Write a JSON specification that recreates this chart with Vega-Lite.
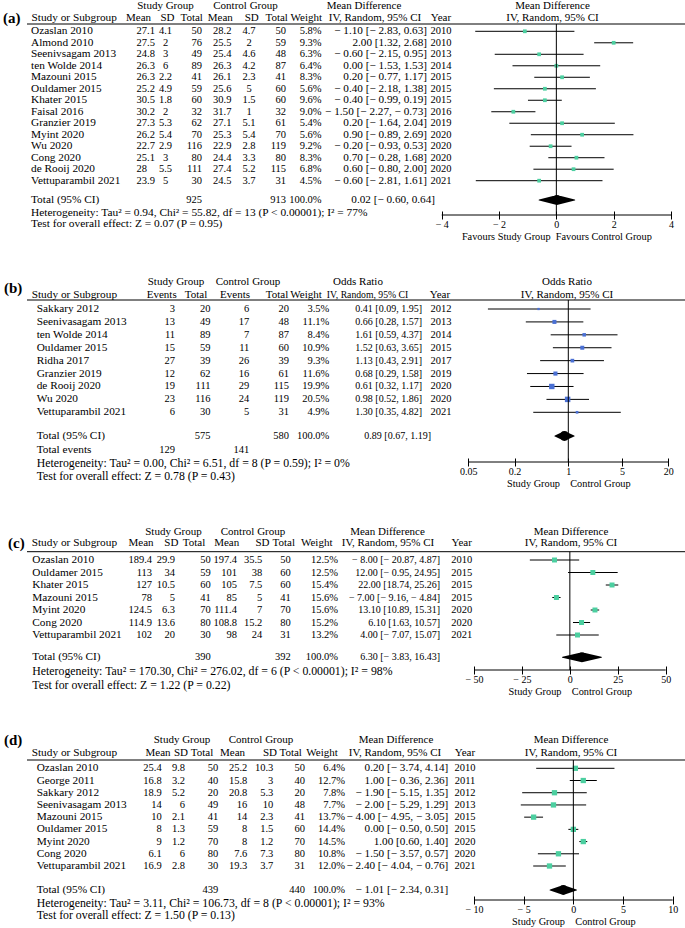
{
"$schema": "https://vega.github.io/schema/vega-lite/v6.json",
"padding": 0,
"background": "white",
"spacing": 30,
"bounds": "flush",
"resolve": {"scale": {"x": "independent", "y": "independent", "size": "independent"}},
"config": {
  "view": {"stroke": null},
  "text": {"font": "Liberation Serif", "fontSize": 11.3, "baseline": "middle", "color": "black"},
  "axis": {"labelFont": "Liberation Serif", "labelFontSize": 10, "labelColor": "black", "titleFont": "Liberation Serif", "titleFontSize": 10.3, "titleFontWeight": "normal", "titleColor": "black", "tickColor": "black", "grid": false}
},
"datasets": {
  "a": [
    {"row":1,"kind":"study","name":"Ozaslan 2010","m1":"27.1","sd1":"4.1","n1":"50","m2":"28.2","sd2":"4.7","n2":"50","wt":"5.8%","ci":"− 1.10 [− 2.83, 0.63]","year":"2010","est":-1.1,"lo":-2.83,"hi":0.63},
    {"row":2,"kind":"study","name":"Almond 2010","m1":"27.5","sd1":"2","n1":"76","m2":"25.5","sd2":"2","n2":"59","wt":"9.3%","ci":"2.00 [1.32, 2.68]","year":"2010","est":2,"lo":1.32,"hi":2.68},
    {"row":3,"kind":"study","name":"Seenivsagam 2013","m1":"24.8","sd1":"3","n1":"49","m2":"25.4","sd2":"4.6","n2":"48","wt":"6.3%","ci":"− 0.60 [− 2.15, 0.95]","year":"2013","est":-0.6,"lo":-2.15,"hi":0.95},
    {"row":4,"kind":"study","name":"ten Wolde 2014","m1":"26.3","sd1":"6","n1":"89","m2":"26.3","sd2":"4.2","n2":"87","wt":"6.4%","ci":"0.00 [− 1.53, 1.53]","year":"2014","est":0,"lo":-1.53,"hi":1.53},
    {"row":5,"kind":"study","name":"Mazouni 2015","m1":"26.3","sd1":"2.2","n1":"41","m2":"26.1","sd2":"2.3","n2":"41","wt":"8.3%","ci":"0.20 [− 0.77, 1.17]","year":"2015","est":0.2,"lo":-0.77,"hi":1.17},
    {"row":6,"kind":"study","name":"Ouldamer 2015","m1":"25.2","sd1":"4.9","n1":"59","m2":"25.6","sd2":"5","n2":"60","wt":"5.6%","ci":"− 0.40 [− 2.18, 1.38]","year":"2015","est":-0.4,"lo":-2.18,"hi":1.38},
    {"row":7,"kind":"study","name":"Khater 2015","m1":"30.5","sd1":"1.8","n1":"60","m2":"30.9","sd2":"1.5","n2":"60","wt":"9.6%","ci":"− 0.40 [− 0.99, 0.19]","year":"2015","est":-0.4,"lo":-0.99,"hi":0.19},
    {"row":8,"kind":"study","name":"Faisal 2016","m1":"30.2","sd1":"2","n1":"32","m2":"31.7","sd2":"1","n2":"32","wt":"9.0%","ci":"− 1.50 [− 2.27, − 0.73]","year":"2016","est":-1.5,"lo":-2.27,"hi":-0.73},
    {"row":9,"kind":"study","name":"Granzier 2019","m1":"27.3","sd1":"5.3","n1":"62","m2":"27.1","sd2":"5.1","n2":"61","wt":"5.4%","ci":"0.20 [− 1.64, 2.04]","year":"2019","est":0.2,"lo":-1.64,"hi":2.04},
    {"row":10,"kind":"study","name":"Myint 2020","m1":"26.2","sd1":"5.4","n1":"70","m2":"25.3","sd2":"5.4","n2":"70","wt":"5.6%","ci":"0.90 [− 0.89, 2.69]","year":"2020","est":0.9,"lo":-0.89,"hi":2.69},
    {"row":11,"kind":"study","name":"Wu 2020","m1":"22.7","sd1":"2.9","n1":"116","m2":"22.9","sd2":"2.8","n2":"119","wt":"9.2%","ci":"− 0.20 [− 0.93, 0.53]","year":"2020","est":-0.2,"lo":-0.93,"hi":0.53},
    {"row":12,"kind":"study","name":"Cong 2020","m1":"25.1","sd1":"3","n1":"80","m2":"24.4","sd2":"3.3","n2":"80","wt":"8.3%","ci":"0.70 [− 0.28, 1.68]","year":"2020","est":0.7,"lo":-0.28,"hi":1.68},
    {"row":13,"kind":"study","name":"de Rooij 2020","m1":"28","sd1":"5.5","n1":"111","m2":"27.4","sd2":"5.2","n2":"115","wt":"6.8%","ci":"0.60 [− 0.80, 2.00]","year":"2020","est":0.6,"lo":-0.8,"hi":2},
    {"row":14,"kind":"study","name":"Vettuparambil 2021","m1":"23.9","sd1":"5","n1":"30","m2":"24.5","sd2":"3.7","n2":"31","wt":"4.5%","ci":"− 0.60 [− 2.81, 1.61]","year":"2021","est":-0.6,"lo":-2.81,"hi":1.61},
    {"row":16,"kind":"total","name":"Total (95% CI)","n1":"925","n2":"913","wt":"100.0%","ci":"0.02 [− 0.60, 0.64]","est":0.02,"lo":-0.6,"hi":0.64},
    {"row":17,"kind":"note","name":"Heterogeneity: Tau² = 0.94, Chi² = 55.82, df = 13 (P < 0.00001); I² = 77%"},
    {"row":18,"kind":"note","name":"Test for overall effect: Z = 0.07 (P = 0.95)"}
  ],
  "ah": [
    {"row":-2,"c":12,"t":"Study Group"},{"row":-2,"c":13,"t":"Control Group"},{"row":-2,"c":14,"t":"Mean Difference"},{"row":-2,"c":24,"t":"Mean Difference"},
    {"row":-1,"c":11,"t":"Study or Subgroup"},{"row":-1,"c":15,"t":"Mean"},{"row":-1,"c":16,"t":"SD"},{"row":-1,"c":17,"t":"Total"},{"row":-1,"c":18,"t":"Mean"},{"row":-1,"c":19,"t":"SD"},{"row":-1,"c":20,"t":"Total"},{"row":-1,"c":21,"t":"Weight"},{"row":-1,"c":22,"t":"IV, Random, 95% CI"},{"row":-1,"c":23,"t":"Year"},{"row":-1,"c":24,"t":"IV, Random, 95% CI"},{"row":-1,"c":25,"t":"(a)"}
  ],
  "b": [
    {"row":1,"kind":"study","name":"Sakkary 2012","ev1":"3","n1":"20","ev2":"6","n2":"20","wt":"3.5%","w":3.5,"ci":"0.41 [0.09, 1.95]","year":"2012","est":0.41,"lo":0.09,"hi":1.95},
    {"row":2,"kind":"study","name":"Seenivasagam 2013","ev1":"13","n1":"49","ev2":"17","n2":"48","wt":"11.1%","w":11.1,"ci":"0.66 [0.28, 1.57]","year":"2013","est":0.66,"lo":0.28,"hi":1.57},
    {"row":3,"kind":"study","name":"ten Wolde 2014","ev1":"11","n1":"89","ev2":"7","n2":"87","wt":"8.4%","w":8.4,"ci":"1.61 [0.59, 4.37]","year":"2014","est":1.61,"lo":0.59,"hi":4.37},
    {"row":4,"kind":"study","name":"Ouldamer 2015","ev1":"15","n1":"59","ev2":"11","n2":"60","wt":"10.9%","w":10.9,"ci":"1.52 [0.63, 3.65]","year":"2015","est":1.52,"lo":0.63,"hi":3.65},
    {"row":5,"kind":"study","name":"Ridha 2017","ev1":"27","n1":"39","ev2":"26","n2":"39","wt":"9.3%","w":9.3,"ci":"1.13 [0.43, 2.91]","year":"2017","est":1.13,"lo":0.43,"hi":2.91},
    {"row":6,"kind":"study","name":"Granzier 2019","ev1":"12","n1":"62","ev2":"16","n2":"61","wt":"11.6%","w":11.6,"ci":"0.68 [0.29, 1.58]","year":"2019","est":0.68,"lo":0.29,"hi":1.58},
    {"row":7,"kind":"study","name":"de Rooij 2020","ev1":"19","n1":"111","ev2":"29","n2":"115","wt":"19.9%","w":19.9,"ci":"0.61 [0.32, 1.17]","year":"2020","est":0.61,"lo":0.32,"hi":1.17},
    {"row":8,"kind":"study","name":"Wu 2020","ev1":"23","n1":"116","ev2":"24","n2":"119","wt":"20.5%","w":20.5,"ci":"0.98 [0.52, 1.86]","year":"2020","est":0.98,"lo":0.52,"hi":1.86},
    {"row":9,"kind":"study","name":"Vettuparambil 2021","ev1":"6","n1":"30","ev2":"5","n2":"31","wt":"4.9%","w":4.9,"ci":"1.30 [0.35, 4.82]","year":"2021","est":1.3,"lo":0.35,"hi":4.82},
    {"row":11,"kind":"total","name":"Total (95% CI)","n1":"575","n2":"580","wt":"100.0%","ci":"0.89 [0.67, 1.19]","est":0.89,"lo":0.67,"hi":1.19},
    {"row":12,"kind":"events","name":"Total events","ev1":"129","ev2":"141"},
    {"row":13,"kind":"note","name":"Heterogeneity: Tau² = 0.00, Chi² = 6.51, df = 8 (P = 0.59); I² = 0%"},
    {"row":14,"kind":"note","name":"Test for overall effect: Z = 0.78 (P = 0.43)"}
  ],
  "bh": [
    {"row":-2,"c":12,"t":"Study Group"},{"row":-2,"c":13,"t":"Control Group"},{"row":-2,"c":14,"t":"Odds Ratio"},{"row":-2,"c":24,"t":"Odds Ratio"},
    {"row":-1,"c":11,"t":"Study or Subgroup"},{"row":-1,"c":15,"t":"Events"},{"row":-1,"c":17,"t":"Total"},{"row":-1,"c":18,"t":"Events"},{"row":-1,"c":20,"t":"Total"},{"row":-1,"c":21,"t":"Weight"},{"row":-1,"c":22,"t":"IV, Random, 95% CI"},{"row":-1,"c":23,"t":"Year"},{"row":-1,"c":24,"t":"IV, Random, 95% CI"},{"row":-1.5,"c":25,"t":"(b)"}
  ],
  "c": [
    {"row":1,"kind":"study","name":"Ozaslan 2010","m1":"189.4","sd1":"29.9","n1":"50","m2":"197.4","sd2":"35.5","n2":"50","wt":"12.5%","ci":"− 8.00 [− 20.87, 4.87]","year":"2010","est":-8,"lo":-20.87,"hi":4.87},
    {"row":2,"kind":"study","name":"Ouldamer 2015","m1":"113","sd1":"34","n1":"59","m2":"101","sd2":"38","n2":"60","wt":"12.5%","ci":"12.00 [− 0.95, 24.95]","year":"2015","est":12,"lo":-0.95,"hi":24.95},
    {"row":3,"kind":"study","name":"Khater 2015","m1":"127","sd1":"10.5","n1":"60","m2":"105","sd2":"7.5","n2":"60","wt":"15.4%","ci":"22.00 [18.74, 25.26]","year":"2015","est":22,"lo":18.74,"hi":25.26},
    {"row":4,"kind":"study","name":"Mazouni 2015","m1":"78","sd1":"5","n1":"41","m2":"85","sd2":"5","n2":"41","wt":"15.6%","ci":"− 7.00 [− 9.16, − 4.84]","year":"2015","est":-7,"lo":-9.16,"hi":-4.84},
    {"row":5,"kind":"study","name":"Myint 2020","m1":"124.5","sd1":"6.3","n1":"70","m2":"111.4","sd2":"7","n2":"70","wt":"15.6%","ci":"13.10 [10.89, 15.31]","year":"2020","est":13.1,"lo":10.89,"hi":15.31},
    {"row":6,"kind":"study","name":"Cong 2020","m1":"114.9","sd1":"13.6","n1":"80","m2":"108.8","sd2":"15.2","n2":"80","wt":"15.2%","ci":"6.10 [1.63, 10.57]","year":"2020","est":6.1,"lo":1.63,"hi":10.57},
    {"row":7,"kind":"study","name":"Vettuparambil 2021","m1":"102","sd1":"20","n1":"30","m2":"98","sd2":"24","n2":"31","wt":"13.2%","ci":"4.00 [− 7.07, 15.07]","year":"2021","est":4,"lo":-7.07,"hi":15.07},
    {"row":9,"kind":"total","name":"Total (95% CI)","n1":"390","n2":"392","wt":"100.0%","ci":"6.30 [− 3.83, 16.43]","est":6.3,"lo":-3.83,"hi":16.43},
    {"row":10,"kind":"note","name":"Heterogeneity: Tau² = 170.30, Chi² = 276.02, df = 6 (P < 0.00001); I² = 98%"},
    {"row":11,"kind":"note","name":"Test for overall effect: Z = 1.22 (P = 0.22)"}
  ],
  "ch": [
    {"row":-2,"c":12,"t":"Study Group"},{"row":-2,"c":13,"t":"Control Group"},{"row":-2,"c":14,"t":"Mean Difference"},{"row":-2,"c":24,"t":"Mean Difference"},
    {"row":-1,"c":11,"t":"Study or Subgroup"},{"row":-1,"c":15,"t":"Mean"},{"row":-1,"c":16,"t":"SD"},{"row":-1,"c":17,"t":"Total"},{"row":-1,"c":18,"t":"Mean"},{"row":-1,"c":19,"t":"SD"},{"row":-1,"c":20,"t":"Total"},{"row":-1,"c":21,"t":"Weight"},{"row":-1,"c":22,"t":"IV, Random, 95% CI"},{"row":-1,"c":23,"t":"Year"},{"row":-1,"c":24,"t":"IV, Random, 95% CI"},{"row":-1,"c":25,"t":"(c)"}
  ],
  "d": [
    {"row":1,"kind":"study","name":"Ozaslan 2010","m1":"25.4","sd1":"9.8","n1":"50","m2":"25.2","sd2":"10.3","n2":"50","wt":"6.4%","ci":"0.20 [− 3.74, 4.14]","year":"2010","est":0.2,"lo":-3.74,"hi":4.14},
    {"row":2,"kind":"study","name":"George 2011","m1":"16.8","sd1":"3.2","n1":"40","m2":"15.8","sd2":"3","n2":"40","wt":"12.7%","ci":"1.00 [− 0.36, 2.36]","year":"2011","est":1,"lo":-0.36,"hi":2.36},
    {"row":3,"kind":"study","name":"Sakkary 2012","m1":"18.9","sd1":"5.2","n1":"20","m2":"20.8","sd2":"5.3","n2":"20","wt":"7.8%","ci":"− 1.90 [− 5.15, 1.35]","year":"2012","est":-1.9,"lo":-5.15,"hi":1.35},
    {"row":4,"kind":"study","name":"Seenivasagam 2013","m1":"14","sd1":"6","n1":"49","m2":"16","sd2":"10","n2":"48","wt":"7.7%","ci":"− 2.00 [− 5.29, 1.29]","year":"2013","est":-2,"lo":-5.29,"hi":1.29},
    {"row":5,"kind":"study","name":"Mazouni 2015","m1":"10","sd1":"2.1","n1":"41","m2":"14","sd2":"2.3","n2":"41","wt":"13.7%","ci":"− 4.00 [− 4.95, − 3.05]","year":"2015","est":-4,"lo":-4.95,"hi":-3.05},
    {"row":6,"kind":"study","name":"Ouldamer 2015","m1":"8","sd1":"1.3","n1":"59","m2":"8","sd2":"1.5","n2":"60","wt":"14.4%","ci":"0.00 [− 0.50, 0.50]","year":"2015","est":0,"lo":-0.5,"hi":0.5},
    {"row":7,"kind":"study","name":"Myint 2020","m1":"9","sd1":"1.2","n1":"70","m2":"8","sd2":"1.2","n2":"70","wt":"14.5%","ci":"1.00 [0.60, 1.40]","year":"2020","est":1,"lo":0.6,"hi":1.4},
    {"row":8,"kind":"study","name":"Cong 2020","m1":"6.1","sd1":"6","n1":"80","m2":"7.6","sd2":"7.3","n2":"80","wt":"10.8%","ci":"− 1.50 [− 3.57, 0.57]","year":"2020","est":-1.5,"lo":-3.57,"hi":0.57},
    {"row":9,"kind":"study","name":"Vettuparambil 2021","m1":"16.9","sd1":"2.8","n1":"30","m2":"19.3","sd2":"3.7","n2":"31","wt":"12.0%","ci":"− 2.40 [− 4.04, − 0.76]","year":"2021","est":-2.4,"lo":-4.04,"hi":-0.76},
    {"row":11,"kind":"total","name":"Total (95% CI)","n1":"439","n2":"440","wt":"100.0%","ci":"− 1.01 [− 2.34, 0.31]","est":-1.01,"lo":-2.34,"hi":0.31},
    {"row":12,"kind":"note","name":"Heterogeneity: Tau² = 3.11, Chi² = 106.73, df = 8 (P < 0.00001); I² = 93%"},
    {"row":13,"kind":"note","name":"Test for overall effect: Z = 1.50 (P = 0.13)"}
  ],
  "dh": [
    {"row":-2,"c":12,"t":"Study Group"},{"row":-2,"c":13,"t":"Control Group"},{"row":-2,"c":14,"t":"Mean Difference"},{"row":-2,"c":24,"t":"Mean Difference"},
    {"row":-1,"c":11,"t":"Study or Subgroup"},{"row":-1,"c":15,"t":"Mean"},{"row":-1,"c":16,"t":"SD"},{"row":-1,"c":17,"t":"Total"},{"row":-1,"c":18,"t":"Mean"},{"row":-1,"c":19,"t":"SD"},{"row":-1,"c":20,"t":"Total"},{"row":-1,"c":21,"t":"Weight"},{"row":-1,"c":22,"t":"IV, Random, 95% CI"},{"row":-1,"c":23,"t":"Year"},{"row":-1,"c":24,"t":"IV, Random, 95% CI"},{"row":-2,"c":25,"t":"(d)"}
  ]
},
"vconcat": [
{
  "width": 685, "height": 215,
  "data": {"name": "a"},
  "resolve": {"scale": {"x": "independent"}},
  "layer": [
    {"layer": [
      {"data":{"name":"ah"},"transform":[{"filter":"datum.c != 11 && datum.c != 25"}],"mark":{"type":"text","align":"center","fontSize":11},"encoding":{"x":{"field":"c","type":"quantitative","axis":null,"scale":{"domain":[0,1,2,3,4,5,6,7,8,9,10,11,12,13,14,15,16,17,18,19,20,21,22,23,24,25,26,27],"range":[31,136.5,165.5,202,213,249,286,321.5,427,435,441,31.5,165.5,245.5,364,138.5,167.5,191.7,220.3,251.7,276.7,306.3,375,441,552.5,3,685,27],"nice":false,"zero":false}},"y":{"field":"row","type":"quantitative","axis":null,"scale":{"domain":[-2,-1,0,1,14,16,17,18,99],"range":[6,17.5,24,31.3,180.7,200,212.7,224.3,215],"nice":false,"zero":false}},"text":{"field":"t"}}},
      {"data":{"name":"ah"},"transform":[{"filter":"datum.c == 11"}],"mark":{"type":"text","align":"left","fontSize":11.3},"encoding":{"x":{"field":"c","type":"quantitative","axis":null},"y":{"field":"row","type":"quantitative","axis":null},"text":{"field":"t"}}},
      {"data":{"name":"ah"},"transform":[{"filter":"datum.c == 25"}],"mark":{"type":"text","align":"left","fontWeight":"bold","fontSize":15},"encoding":{"x":{"field":"c","type":"quantitative","axis":null},"y":{"field":"row","type":"quantitative","axis":null},"text":{"field":"t"}}},
      {"data":{"values":[{}]},"mark":{"type":"rule","color":"black","strokeWidth":1},"encoding":{"x":{"datum":27,"type":"quantitative","axis":null},"x2":{"datum":26},"y":{"datum":0,"type":"quantitative","axis":null}}},
      {"transform":[{"filter":"isValid(datum.name) && datum.kind != 'note'"}],"mark":{"type":"text","align":"left"},"encoding":{"x":{"datum":0,"type":"quantitative","axis":null},"y":{"field":"row","type":"quantitative","axis":null},"text":{"field":"name"}}},
      {"transform":[{"filter":"datum.kind == 'note'"}],"mark":{"type":"text","align":"left","fontSize":11.4},"encoding":{"x":{"datum":0,"type":"quantitative","axis":null},"y":{"field":"row","type":"quantitative","axis":null},"text":{"field":"name"}}},
      {"transform":[{"filter":"isValid(datum.m1)"}],"mark":{"type":"text","align":"left","fontSize":10.5},"encoding":{"x":{"datum":1,"type":"quantitative","axis":null},"y":{"field":"row","type":"quantitative","axis":null},"text":{"field":"m1"}}},
      {"transform":[{"filter":"isValid(datum.sd1)"}],"mark":{"type":"text","align":"center","fontSize":10.5},"encoding":{"x":{"datum":2,"type":"quantitative","axis":null},"y":{"field":"row","type":"quantitative","axis":null},"text":{"field":"sd1"}}},
      {"transform":[{"filter":"isValid(datum.n1)"}],"mark":{"type":"text","align":"right","fontSize":10.5},"encoding":{"x":{"datum":3,"type":"quantitative","axis":null},"y":{"field":"row","type":"quantitative","axis":null},"text":{"field":"n1"}}},
      {"transform":[{"filter":"isValid(datum.m2)"}],"mark":{"type":"text","align":"left","fontSize":10.5},"encoding":{"x":{"datum":4,"type":"quantitative","axis":null},"y":{"field":"row","type":"quantitative","axis":null},"text":{"field":"m2"}}},
      {"transform":[{"filter":"isValid(datum.sd2)"}],"mark":{"type":"text","align":"center","fontSize":10.5},"encoding":{"x":{"datum":5,"type":"quantitative","axis":null},"y":{"field":"row","type":"quantitative","axis":null},"text":{"field":"sd2"}}},
      {"transform":[{"filter":"isValid(datum.n2)"}],"mark":{"type":"text","align":"right","fontSize":10.5},"encoding":{"x":{"datum":6,"type":"quantitative","axis":null},"y":{"field":"row","type":"quantitative","axis":null},"text":{"field":"n2"}}},
      {"transform":[{"filter":"isValid(datum.wt)"}],"mark":{"type":"text","align":"right","fontSize":10.5},"encoding":{"x":{"datum":7,"type":"quantitative","axis":null},"y":{"field":"row","type":"quantitative","axis":null},"text":{"field":"wt"}}},
      {"transform":[{"filter":"datum.kind == 'study'"}],"mark":{"type":"text","align":"right","fontSize":11.2},"encoding":{"x":{"datum":8,"type":"quantitative","axis":null},"y":{"field":"row","type":"quantitative","axis":null},"text":{"field":"ci"}}},
      {"transform":[{"filter":"datum.kind == 'total'"}],"mark":{"type":"text","align":"right","fontSize":11.2},"encoding":{"x":{"datum":9,"type":"quantitative","axis":null},"y":{"field":"row","type":"quantitative","axis":null},"text":{"field":"ci"}}},
      {"transform":[{"filter":"isValid(datum.year)"}],"mark":{"type":"text","align":"center","fontSize":10.5},"encoding":{"x":{"datum":10,"type":"quantitative","axis":null},"y":{"field":"row","type":"quantitative","axis":null},"text":{"field":"year"}}}
    ]},
    {"layer": [
      {"transform":[{"filter":"datum.kind == 'study'"}],"mark":{"type":"rule","color":"black","strokeWidth":1},"encoding":{"x":{"field":"lo","type":"quantitative","scale":{"domain":[-4,4],"range":[441.7,671],"nice":false,"zero":false},"axis":{"orient":"bottom","values":[-4,-2,0,2,4],"labelExpr":"datum.value < 0 ? '− ' + (-datum.value) : '' + datum.value","title":"Favours Study Group\u00a0 Favours Control Group","domain":false,"offset":-4,"tickSize":8,"labelPadding":0,"titlePadding":2,"labelFlush":false,"labelOverlap":false}},"x2":{"field":"hi"},"y":{"field":"row","type":"quantitative","axis":null}}},
      {"transform":[{"filter":"datum.kind == 'study'"}],"mark":{"type":"point","shape":"square","filled":true,"color":"#4ccfa0","opacity":1,"size":14},"encoding":{"x":{"field":"est","type":"quantitative"},"y":{"field":"row","type":"quantitative","axis":null}}},
      {"transform":[{"filter":"datum.kind == 'total'"},{"fold":["lo","est","hi"]}],"mark":{"type":"trail","color":"black"},"encoding":{"x":{"field":"value","type":"quantitative"},"y":{"field":"row","type":"quantitative","axis":null},"size":{"field":"key","type":"ordinal","scale":{"type":"ordinal","domain":["lo","est","hi"],"range":[0,10,0]},"legend":null}}},
      {"data":{"values":[{}]},"mark":{"type":"rule","color":"black","strokeWidth":1},"encoding":{"x":{"datum":0,"type":"quantitative"},"y":{"datum":0,"type":"quantitative","axis":null},"y2":{"datum":99}}},
      {"data":{"values":[{}]},"mark":{"type":"rule","color":"black","strokeWidth":1},"encoding":{"x":{"datum":-4,"type":"quantitative"},"x2":{"datum":4},"y":{"datum":99,"type":"quantitative","axis":null}}}
    ]}
  ]
},
{
  "width": 685, "height": 217,
  "data": {"name": "b"},
  "resolve": {"scale": {"x": "independent"}},
  "layer": [
    {"layer": [
      {"data":{"name":"bh"},"transform":[{"filter":"datum.c != 11 && datum.c != 25 && datum.c != 22"}],"mark":{"type":"text","align":"center","fontSize":11},"encoding":{"x":{"field":"c","type":"quantitative","axis":null,"scale":{"domain":[0,1,2,3,4,5,6,7,8,9,10,11,12,13,14,15,16,17,18,19,20,21,22,23,24,25,26,27],"range":[36.7,175,190,210.5,249.3,270,289,329.3,422,431,441,31.7,176,248,358,161.7,180,196,235,255,277,306,367.5,440,567,4,685,27],"nice":false,"zero":false}},"y":{"field":"row","type":"quantitative","axis":null,"scale":{"domain":[-2,-1,0,1,9,11,12,13,14,99],"range":[37,49.5,55,64,167.3,191,205,218.3,230.7,217],"nice":false,"zero":false}},"text":{"field":"t"}}},
      {"data":{"name":"bh"},"transform":[{"filter":"datum.c == 22"}],"mark":{"type":"text","align":"center","fontSize":9.7},"encoding":{"x":{"field":"c","type":"quantitative","axis":null},"y":{"field":"row","type":"quantitative","axis":null},"text":{"field":"t"}}},
      {"data":{"name":"bh"},"transform":[{"filter":"datum.c == 11"}],"mark":{"type":"text","align":"left","fontSize":11.3},"encoding":{"x":{"field":"c","type":"quantitative","axis":null},"y":{"field":"row","type":"quantitative","axis":null},"text":{"field":"t"}}},
      {"data":{"name":"bh"},"transform":[{"filter":"datum.c == 25"}],"mark":{"type":"text","align":"left","fontWeight":"bold","fontSize":15},"encoding":{"x":{"field":"c","type":"quantitative","axis":null},"y":{"field":"row","type":"quantitative","axis":null},"text":{"field":"t"}}},
      {"data":{"values":[{}]},"mark":{"type":"rule","color":"black","strokeWidth":1},"encoding":{"x":{"datum":27,"type":"quantitative","axis":null},"x2":{"datum":26},"y":{"datum":0,"type":"quantitative","axis":null}}},
      {"transform":[{"filter":"isValid(datum.name) && datum.kind != 'note'"}],"mark":{"type":"text","align":"left"},"encoding":{"x":{"datum":0,"type":"quantitative","axis":null},"y":{"field":"row","type":"quantitative","axis":null},"text":{"field":"name"}}},
      {"transform":[{"filter":"datum.kind == 'note'"}],"mark":{"type":"text","align":"left","fontSize":11.8},"encoding":{"x":{"datum":0,"type":"quantitative","axis":null},"y":{"field":"row","type":"quantitative","axis":null},"text":{"field":"name"}}},
      {"transform":[{"filter":"isValid(datum.ev1)"}],"mark":{"type":"text","align":"right","fontSize":10.5},"encoding":{"x":{"datum":1,"type":"quantitative","axis":null},"y":{"field":"row","type":"quantitative","axis":null},"text":{"field":"ev1"}}},
      {"transform":[{"filter":"isValid(datum.n1)"}],"mark":{"type":"text","align":"right","fontSize":10.5},"encoding":{"x":{"datum":3,"type":"quantitative","axis":null},"y":{"field":"row","type":"quantitative","axis":null},"text":{"field":"n1"}}},
      {"transform":[{"filter":"isValid(datum.ev2)"}],"mark":{"type":"text","align":"right","fontSize":10.5},"encoding":{"x":{"datum":4,"type":"quantitative","axis":null},"y":{"field":"row","type":"quantitative","axis":null},"text":{"field":"ev2"}}},
      {"transform":[{"filter":"isValid(datum.n2)"}],"mark":{"type":"text","align":"right","fontSize":10.5},"encoding":{"x":{"datum":6,"type":"quantitative","axis":null},"y":{"field":"row","type":"quantitative","axis":null},"text":{"field":"n2"}}},
      {"transform":[{"filter":"isValid(datum.wt)"}],"mark":{"type":"text","align":"right","fontSize":10.5},"encoding":{"x":{"datum":7,"type":"quantitative","axis":null},"y":{"field":"row","type":"quantitative","axis":null},"text":{"field":"wt"}}},
      {"transform":[{"filter":"datum.kind == 'study'"}],"mark":{"type":"text","align":"right","fontSize":10},"encoding":{"x":{"datum":8,"type":"quantitative","axis":null},"y":{"field":"row","type":"quantitative","axis":null},"text":{"field":"ci"}}},
      {"transform":[{"filter":"datum.kind == 'total'"}],"mark":{"type":"text","align":"right","fontSize":10},"encoding":{"x":{"datum":9,"type":"quantitative","axis":null},"y":{"field":"row","type":"quantitative","axis":null},"text":{"field":"ci"}}},
      {"transform":[{"filter":"isValid(datum.year)"}],"mark":{"type":"text","align":"center","fontSize":10.5},"encoding":{"x":{"datum":10,"type":"quantitative","axis":null},"y":{"field":"row","type":"quantitative","axis":null},"text":{"field":"year"}}}
    ]},
    {"resolve": {"scale": {"size": "independent"}},
     "layer": [
      {"transform":[{"filter":"datum.kind == 'study'"}],"mark":{"type":"rule","color":"black","strokeWidth":1},"encoding":{"x":{"field":"lo","type":"quantitative","scale":{"type":"log","domain":[0.05,20],"range":[468.3,668.3],"nice":false},"axis":{"orient":"bottom","values":[0.05,0.2,1,5,20],"format":"~g","title":"Study Group\u00a0\u00a0\u00a0 Control Group","domain":false,"offset":-4,"tickSize":8,"labelPadding":0,"titlePadding":2,"labelFlush":false,"labelOverlap":false}},"x2":{"field":"hi"},"y":{"field":"row","type":"quantitative","axis":null}}},
      {"transform":[{"filter":"datum.kind == 'study'"}],"mark":{"type":"point","shape":"square","filled":true,"color":"#4a70d4","opacity":1},"encoding":{"x":{"field":"est","type":"quantitative"},"y":{"field":"row","type":"quantitative","axis":null},"size":{"field":"w","type":"quantitative","scale":{"domain":[0,20.5],"range":[0,30]},"legend":null}}},
      {"transform":[{"filter":"datum.kind == 'total'"},{"fold":["lo","est","hi"]}],"mark":{"type":"trail","color":"black"},"encoding":{"x":{"field":"value","type":"quantitative"},"y":{"field":"row","type":"quantitative","axis":null},"size":{"field":"key","type":"ordinal","scale":{"type":"ordinal","domain":["lo","est","hi"],"range":[0,10,0]},"legend":null}}},
      {"data":{"values":[{}]},"mark":{"type":"rule","color":"black","strokeWidth":1},"encoding":{"x":{"datum":1,"type":"quantitative"},"y":{"datum":0,"type":"quantitative","axis":null},"y2":{"datum":99}}},
      {"data":{"values":[{}]},"mark":{"type":"rule","color":"black","strokeWidth":1},"encoding":{"x":{"datum":0.05,"type":"quantitative"},"x2":{"datum":20},"y":{"datum":99,"type":"quantitative","axis":null}}}
    ]}
  ]
},
{
  "width": 685, "height": 178,
  "data": {"name": "c"},
  "resolve": {"scale": {"x": "independent"}},
  "layer": [
    {"layer": [
      {"data":{"name":"ch"},"transform":[{"filter":"datum.c != 11 && datum.c != 25"}],"mark":{"type":"text","align":"center","fontSize":11},"encoding":{"x":{"field":"c","type":"quantitative","axis":null,"scale":{"domain":[0,1,2,3,4,5,6,7,8,9,10,11,12,13,14,15,16,17,18,19,20,21,22,23,24,25,26,27],"range":[32.3,152,175,210.7,237,262.3,290.7,338,440,440,461.7,31.7,173.5,253,387.5,141,171.3,194,226.7,262.5,283.8,316.7,388,461.7,571,8,685,27],"nice":false,"zero":false}},"y":{"field":"row","type":"quantitative","axis":null,"scale":{"domain":[-2,-1,0,1,7,9,10,11,99],"range":[40.3,51.3,59.7,68,143,165.3,178.7,193,178],"nice":false,"zero":false}},"text":{"field":"t"}}},
      {"data":{"name":"ch"},"transform":[{"filter":"datum.c == 11"}],"mark":{"type":"text","align":"left","fontSize":11.3},"encoding":{"x":{"field":"c","type":"quantitative","axis":null},"y":{"field":"row","type":"quantitative","axis":null},"text":{"field":"t"}}},
      {"data":{"name":"ch"},"transform":[{"filter":"datum.c == 25"}],"mark":{"type":"text","align":"left","fontWeight":"bold","fontSize":15},"encoding":{"x":{"field":"c","type":"quantitative","axis":null},"y":{"field":"row","type":"quantitative","axis":null},"text":{"field":"t"}}},
      {"data":{"values":[{}]},"mark":{"type":"rule","color":"black","strokeWidth":1},"encoding":{"x":{"datum":27,"type":"quantitative","axis":null},"x2":{"datum":26},"y":{"datum":0,"type":"quantitative","axis":null}}},
      {"transform":[{"filter":"isValid(datum.name) && datum.kind != 'note'"}],"mark":{"type":"text","align":"left"},"encoding":{"x":{"datum":0,"type":"quantitative","axis":null},"y":{"field":"row","type":"quantitative","axis":null},"text":{"field":"name"}}},
      {"transform":[{"filter":"datum.kind == 'note'"}],"mark":{"type":"text","align":"left","fontSize":11.8},"encoding":{"x":{"datum":0,"type":"quantitative","axis":null},"y":{"field":"row","type":"quantitative","axis":null},"text":{"field":"name"}}},
      {"transform":[{"filter":"isValid(datum.m1)"}],"mark":{"type":"text","align":"right","fontSize":10.5},"encoding":{"x":{"datum":1,"type":"quantitative","axis":null},"y":{"field":"row","type":"quantitative","axis":null},"text":{"field":"m1"}}},
      {"transform":[{"filter":"isValid(datum.sd1)"}],"mark":{"type":"text","align":"right","fontSize":10.5},"encoding":{"x":{"datum":2,"type":"quantitative","axis":null},"y":{"field":"row","type":"quantitative","axis":null},"text":{"field":"sd1"}}},
      {"transform":[{"filter":"isValid(datum.n1)"}],"mark":{"type":"text","align":"right","fontSize":10.5},"encoding":{"x":{"datum":3,"type":"quantitative","axis":null},"y":{"field":"row","type":"quantitative","axis":null},"text":{"field":"n1"}}},
      {"transform":[{"filter":"isValid(datum.m2)"}],"mark":{"type":"text","align":"right","fontSize":10.5},"encoding":{"x":{"datum":4,"type":"quantitative","axis":null},"y":{"field":"row","type":"quantitative","axis":null},"text":{"field":"m2"}}},
      {"transform":[{"filter":"isValid(datum.sd2)"}],"mark":{"type":"text","align":"right","fontSize":10.5},"encoding":{"x":{"datum":5,"type":"quantitative","axis":null},"y":{"field":"row","type":"quantitative","axis":null},"text":{"field":"sd2"}}},
      {"transform":[{"filter":"isValid(datum.n2)"}],"mark":{"type":"text","align":"right","fontSize":10.5},"encoding":{"x":{"datum":6,"type":"quantitative","axis":null},"y":{"field":"row","type":"quantitative","axis":null},"text":{"field":"n2"}}},
      {"transform":[{"filter":"isValid(datum.wt)"}],"mark":{"type":"text","align":"right","fontSize":10.5},"encoding":{"x":{"datum":7,"type":"quantitative","axis":null},"y":{"field":"row","type":"quantitative","axis":null},"text":{"field":"wt"}}},
      {"transform":[{"filter":"datum.kind == 'study'"}],"mark":{"type":"text","align":"right","fontSize":10},"encoding":{"x":{"datum":8,"type":"quantitative","axis":null},"y":{"field":"row","type":"quantitative","axis":null},"text":{"field":"ci"}}},
      {"transform":[{"filter":"datum.kind == 'total'"}],"mark":{"type":"text","align":"right","fontSize":10},"encoding":{"x":{"datum":9,"type":"quantitative","axis":null},"y":{"field":"row","type":"quantitative","axis":null},"text":{"field":"ci"}}},
      {"transform":[{"filter":"isValid(datum.year)"}],"mark":{"type":"text","align":"center","fontSize":10.5},"encoding":{"x":{"datum":10,"type":"quantitative","axis":null},"y":{"field":"row","type":"quantitative","axis":null},"text":{"field":"year"}}}
    ]},
    {"layer": [
      {"transform":[{"filter":"datum.kind == 'study'"}],"mark":{"type":"rule","color":"black","strokeWidth":1},"encoding":{"x":{"field":"lo","type":"quantitative","scale":{"domain":[-50,50],"range":[474,665.7],"nice":false,"zero":false},"axis":{"orient":"bottom","values":[-50,-25,0,25,50],"labelExpr":"datum.value < 0 ? '− ' + (-datum.value) : '' + datum.value","title":"Study Group\u00a0\u00a0\u00a0 Control Group","domain":false,"offset":-4,"tickSize":8,"labelPadding":0,"titlePadding":2,"labelFlush":false,"labelOverlap":false}},"x2":{"field":"hi"},"y":{"field":"row","type":"quantitative","axis":null}}},
      {"transform":[{"filter":"datum.kind == 'study'"}],"mark":{"type":"point","shape":"square","filled":true,"color":"#4ccfa0","opacity":1,"size":25},"encoding":{"x":{"field":"est","type":"quantitative"},"y":{"field":"row","type":"quantitative","axis":null}}},
      {"transform":[{"filter":"datum.kind == 'total'"},{"fold":["lo","est","hi"]}],"mark":{"type":"trail","color":"black"},"encoding":{"x":{"field":"value","type":"quantitative"},"y":{"field":"row","type":"quantitative","axis":null},"size":{"field":"key","type":"ordinal","scale":{"type":"ordinal","domain":["lo","est","hi"],"range":[0,10,0]},"legend":null}}},
      {"data":{"values":[{}]},"mark":{"type":"rule","color":"black","strokeWidth":1},"encoding":{"x":{"datum":0,"type":"quantitative"},"y":{"datum":0,"type":"quantitative","axis":null},"y2":{"datum":99}}},
      {"data":{"values":[{}]},"mark":{"type":"rule","color":"black","strokeWidth":1},"encoding":{"x":{"datum":-50,"type":"quantitative"},"x2":{"datum":50},"y":{"datum":99,"type":"quantitative","axis":null}}}
    ]}
  ]
},
{
  "width": 685, "height": 200,
  "data": {"name": "d"},
  "resolve": {"scale": {"x": "independent"}},
  "layer": [
    {"layer": [
      {"data":{"name":"dh"},"transform":[{"filter":"datum.c != 11 && datum.c != 25"}],"mark":{"type":"text","align":"center","fontSize":11},"encoding":{"x":{"field":"c","type":"quantitative","axis":null,"scale":{"domain":[0,1,2,3,4,5,6,7,8,9,10,11,12,13,14,15,16,17,18,19,20,21,22,23,24,25,26,27],"range":[36.7,161.7,185,218.3,247.3,273.3,305,345,448.3,448.3,465,31.7,182,261,396,158,181,202,232.5,270,290.7,322,395,465,571,4,685,27],"nice":false,"zero":false}},"y":{"field":"row","type":"quantitative","axis":null,"scale":{"domain":[-2,-1,0,1,9,11,12,13,99],"range":[40,52.7,60,68.3,166,190,202.7,215,200],"nice":false,"zero":false}},"text":{"field":"t"}}},
      {"data":{"name":"dh"},"transform":[{"filter":"datum.c == 11"}],"mark":{"type":"text","align":"left","fontSize":11.3},"encoding":{"x":{"field":"c","type":"quantitative","axis":null},"y":{"field":"row","type":"quantitative","axis":null},"text":{"field":"t"}}},
      {"data":{"name":"dh"},"transform":[{"filter":"datum.c == 25"}],"mark":{"type":"text","align":"left","fontWeight":"bold","fontSize":15},"encoding":{"x":{"field":"c","type":"quantitative","axis":null},"y":{"field":"row","type":"quantitative","axis":null},"text":{"field":"t"}}},
      {"data":{"values":[{}]},"mark":{"type":"rule","color":"black","strokeWidth":1},"encoding":{"x":{"datum":27,"type":"quantitative","axis":null},"x2":{"datum":26},"y":{"datum":0,"type":"quantitative","axis":null}}},
      {"transform":[{"filter":"isValid(datum.name) && datum.kind != 'note'"}],"mark":{"type":"text","align":"left"},"encoding":{"x":{"datum":0,"type":"quantitative","axis":null},"y":{"field":"row","type":"quantitative","axis":null},"text":{"field":"name"}}},
      {"transform":[{"filter":"datum.kind == 'note'"}],"mark":{"type":"text","align":"left","fontSize":11.8},"encoding":{"x":{"datum":0,"type":"quantitative","axis":null},"y":{"field":"row","type":"quantitative","axis":null},"text":{"field":"name"}}},
      {"transform":[{"filter":"isValid(datum.m1)"}],"mark":{"type":"text","align":"right","fontSize":10.5},"encoding":{"x":{"datum":1,"type":"quantitative","axis":null},"y":{"field":"row","type":"quantitative","axis":null},"text":{"field":"m1"}}},
      {"transform":[{"filter":"isValid(datum.sd1)"}],"mark":{"type":"text","align":"right","fontSize":10.5},"encoding":{"x":{"datum":2,"type":"quantitative","axis":null},"y":{"field":"row","type":"quantitative","axis":null},"text":{"field":"sd1"}}},
      {"transform":[{"filter":"isValid(datum.n1)"}],"mark":{"type":"text","align":"right","fontSize":10.5},"encoding":{"x":{"datum":3,"type":"quantitative","axis":null},"y":{"field":"row","type":"quantitative","axis":null},"text":{"field":"n1"}}},
      {"transform":[{"filter":"isValid(datum.m2)"}],"mark":{"type":"text","align":"right","fontSize":10.5},"encoding":{"x":{"datum":4,"type":"quantitative","axis":null},"y":{"field":"row","type":"quantitative","axis":null},"text":{"field":"m2"}}},
      {"transform":[{"filter":"isValid(datum.sd2)"}],"mark":{"type":"text","align":"right","fontSize":10.5},"encoding":{"x":{"datum":5,"type":"quantitative","axis":null},"y":{"field":"row","type":"quantitative","axis":null},"text":{"field":"sd2"}}},
      {"transform":[{"filter":"isValid(datum.n2)"}],"mark":{"type":"text","align":"right","fontSize":10.5},"encoding":{"x":{"datum":6,"type":"quantitative","axis":null},"y":{"field":"row","type":"quantitative","axis":null},"text":{"field":"n2"}}},
      {"transform":[{"filter":"isValid(datum.wt)"}],"mark":{"type":"text","align":"right","fontSize":10.5},"encoding":{"x":{"datum":7,"type":"quantitative","axis":null},"y":{"field":"row","type":"quantitative","axis":null},"text":{"field":"wt"}}},
      {"transform":[{"filter":"datum.kind == 'study'"}],"mark":{"type":"text","align":"right","fontSize":11.2},"encoding":{"x":{"datum":8,"type":"quantitative","axis":null},"y":{"field":"row","type":"quantitative","axis":null},"text":{"field":"ci"}}},
      {"transform":[{"filter":"datum.kind == 'total'"}],"mark":{"type":"text","align":"right","fontSize":11.2},"encoding":{"x":{"datum":9,"type":"quantitative","axis":null},"y":{"field":"row","type":"quantitative","axis":null},"text":{"field":"ci"}}},
      {"transform":[{"filter":"isValid(datum.year)"}],"mark":{"type":"text","align":"center","fontSize":10.5},"encoding":{"x":{"datum":10,"type":"quantitative","axis":null},"y":{"field":"row","type":"quantitative","axis":null},"text":{"field":"year"}}}
    ]},
    {"layer": [
      {"transform":[{"filter":"datum.kind == 'study'"}],"mark":{"type":"rule","color":"black","strokeWidth":1},"encoding":{"x":{"field":"lo","type":"quantitative","scale":{"domain":[-10,10],"range":[474,672.7],"nice":false,"zero":false},"axis":{"orient":"bottom","values":[-10,-5,0,5,10],"labelExpr":"datum.value < 0 ? '− ' + (-datum.value) : '' + datum.value","title":"Study Group\u00a0\u00a0\u00a0 Control Group","domain":false,"offset":-4,"tickSize":8,"labelPadding":0,"titlePadding":2,"labelFlush":false,"labelOverlap":false}},"x2":{"field":"hi"},"y":{"field":"row","type":"quantitative","axis":null}}},
      {"transform":[{"filter":"datum.kind == 'study'"}],"mark":{"type":"point","shape":"square","filled":true,"color":"#4ccfa0","opacity":1,"size":28},"encoding":{"x":{"field":"est","type":"quantitative"},"y":{"field":"row","type":"quantitative","axis":null}}},
      {"transform":[{"filter":"datum.kind == 'total'"},{"fold":["lo","est","hi"]}],"mark":{"type":"trail","color":"black"},"encoding":{"x":{"field":"value","type":"quantitative"},"y":{"field":"row","type":"quantitative","axis":null},"size":{"field":"key","type":"ordinal","scale":{"type":"ordinal","domain":["lo","est","hi"],"range":[0,10,0]},"legend":null}}},
      {"data":{"values":[{}]},"mark":{"type":"rule","color":"black","strokeWidth":1},"encoding":{"x":{"datum":0,"type":"quantitative"},"y":{"datum":0,"type":"quantitative","axis":null},"y2":{"datum":99}}},
      {"data":{"values":[{}]},"mark":{"type":"rule","color":"black","strokeWidth":1},"encoding":{"x":{"datum":-10,"type":"quantitative"},"x2":{"datum":10},"y":{"datum":99,"type":"quantitative","axis":null}}}
    ]}
  ]
}
]
}
